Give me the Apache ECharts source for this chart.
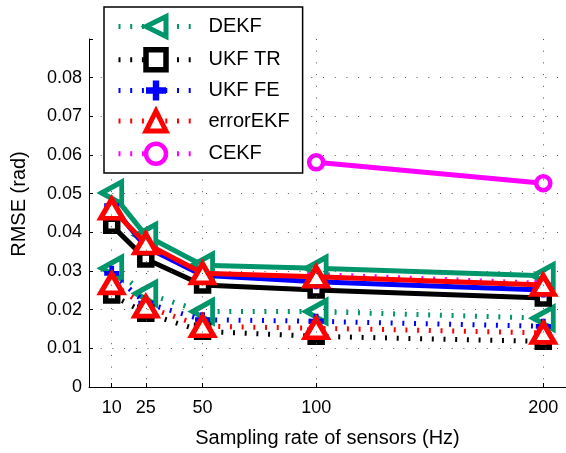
<!DOCTYPE html>
<html>
<head>
<meta charset="utf-8">
<script src="https://cdn.jsdelivr.net/npm/echarts@6/dist/echarts.min.js"></script>
<style>
html,body{margin:0;padding:0;background:#fff;}
#c{width:566px;height:453px;}
</style>
</head>
<body>
<div id="c"></div>
<script>
// ---- data ----
const rates = [10, 25, 50, 100, 200];
const cekfRates = [100, 200];
const xTicks = [10, 25, 50, 100, 200];
const yTicks = [0, 0.01, 0.02, 0.03, 0.04, 0.05, 0.06, 0.07, 0.08];

// dotted-line set
const dekfDot     = [0.0307, 0.0242, 0.0195, 0.0195, 0.0178];
const ukfTrDot    = [0.0238, 0.0191, 0.0144, 0.0131, 0.0118];
const ukfFeDot    = [0.0294, 0.0217, 0.0174, 0.0170, 0.0157];
const errorEkfDot = [0.0268, 0.0208, 0.0157, 0.0152, 0.0140];
const cekfDot     = [0.0291, 0.0268];

// solid-line set
const dekfSolid     = [0.0502, 0.0392, 0.0315, 0.0307, 0.0288];
const ukfTrSolid    = [0.0418, 0.0331, 0.0264, 0.0251, 0.0230];
const ukfFeSolid    = [0.0469, 0.0362, 0.0289, 0.0272, 0.0251];
const errorEkfSolid = [0.0461, 0.0371, 0.0294, 0.0285, 0.0264];
const cekfSolid     = [0.0581, 0.0527];

const names = ['DEKF', 'UKF TR', 'UKF FE', 'errorEKF', 'CEKF'];

// ---- styles ----
const GREEN = '#00966B', BLACK = '#000000', BLUE = '#0000FF', RED = '#FF0000', MAG = '#FF00FF';
const FONT = 'Liberation Sans, Arial, Helvetica, sans-serif';
const PLUS = 'path://M-1.6,-5H1.6V-1.6H5V1.6H1.6V5H-1.6V1.6H-5V-1.6H-1.6Z';
const DOT = [2, 9.7];

function pair(xs, ys) { return xs.map((x, i) => [x, ys[i]]); }

const markers = {
  'DEKF':     {symbol: 'triangle', rotate: 90, size: [22, 20], color: GREEN, hollow: true, bw: 5},
  'UKF TR':   {symbol: 'rect', rotate: 0, size: 12, color: BLACK, hollow: true, bw: 5.5},
  'UKF FE':   {symbol: PLUS, rotate: 0, size: 15, color: BLUE, hollow: false, bw: 0},
  'errorEKF': {symbol: 'triangle', rotate: 0, size: [22, 19], color: RED, hollow: true, bw: 5},
  'CEKF':     {symbol: 'circle', rotate: 0, size: 14, color: MAG, hollow: true, bw: 4.5}
};

function mkSeries(name, data, dotted, z) {
  const m = markers[name];
  return {
    type: 'line',
    name: name,
    data: data,
    z: z,
    symbol: m.symbol,
    symbolRotate: m.rotate,
    symbolSize: m.size,
    showAllSymbol: true,
    animation: false,
    lineStyle: {color: m.color, width: 5, type: dotted ? DOT : 'solid', cap: 'butt', join: 'miter'},
    itemStyle: m.hollow ? {color: '#fff', borderColor: m.color, borderWidth: m.bw} : {color: m.color, borderWidth: 0},
    emphasis: {disabled: true}
  };
}

const series = [
  mkSeries('CEKF', pair(cekfRates, cekfDot), true, 1),
  mkSeries('DEKF', pair(rates, dekfDot), true, 2),
  mkSeries('UKF TR', pair(rates, ukfTrDot), true, 3),
  mkSeries('UKF FE', pair(rates, ukfFeDot), true, 4),
  mkSeries('errorEKF', pair(rates, errorEkfDot), true, 5),
  mkSeries('DEKF', pair(rates, dekfSolid), false, 6),
  mkSeries('UKF TR', pair(rates, ukfTrSolid), false, 7),
  mkSeries('UKF FE', pair(rates, ukfFeSolid), false, 8),
  mkSeries('errorEKF', pair(rates, errorEkfSolid), false, 9),
  mkSeries('CEKF', pair(cekfRates, cekfSolid), false, 10)
];

const legendData = names.map(n => {
  const m = markers[n];
  return {
    name: n,
    itemStyle: m.hollow ? {color: '#fff', borderColor: m.color, borderWidth: m.bw} : {color: m.color, borderWidth: 0},
    lineStyle: {color: m.color, width: 5, type: DOT, cap: 'butt'}
  };
});

const gridDots = {color: '#555', width: 1, type: [1, 10.7]};
const yGridColors = yTicks.map(() => '#555').concat(['rgba(0,0,0,0)']);

const chart = echarts.init(document.getElementById('c'), null, {renderer: 'canvas'});
chart.setOption({
  backgroundColor: '#fff',
  animation: false,
  textStyle: {fontFamily: FONT},
  grid: {left: 89, right: -1, top: 39, bottom: 64, containLabel: false},
  legend: {
    data: legendData,
    orient: 'vertical',
    left: 104, top: 7,
    padding: [7, 13, 7, 12],
    itemWidth: 75, itemHeight: 25, itemGap: 8,
    backgroundColor: '#fff',
    borderColor: '#000', borderWidth: 1.5,
    textStyle: {fontSize: 20, color: '#000', fontFamily: FONT, padding: [0, 0, 0, 10]},
    selectedMode: false,
    z: 20
  },
  xAxis: {
    type: 'value', min: 0, max: 210,
    name: 'Sampling rate of sensors (Hz)', nameLocation: 'middle', nameGap: 41,
    nameTextStyle: {fontSize: 20, color: '#000', fontFamily: FONT},
    axisLine: {show: true, onZero: false, lineStyle: {color: '#000', width: 1}},
    axisTick: {show: true, inside: true, length: 4, customValues: xTicks, lineStyle: {color: '#000'}},
    axisLabel: {show: true, customValues: xTicks, fontSize: 18, color: '#000', margin: 12, fontFamily: FONT},
    splitLine: {show: true, lineStyle: gridDots},
    z: 15
  },
  yAxis: {
    type: 'value', min: 0, max: 0.09, interval: 0.01,
    name: 'RMSE (rad)', nameLocation: 'middle', nameGap: 60,
    nameTextStyle: {fontSize: 20, color: '#000', fontFamily: FONT, padding: [0, 0, 0, 18]},
    axisLine: {show: true, onZero: false, lineStyle: {color: '#000', width: 1}},
    axisTick: {show: true, inside: true, length: 4, lineStyle: {color: '#000'}},
    axisLabel: {fontSize: 18, color: '#000', margin: 7, fontFamily: FONT,
      formatter: v => (v > 0.085 ? '' : String(+v.toFixed(2)))},
    splitLine: {show: true, lineStyle: {color: yGridColors, width: 1, type: [1, 10.7]}},
    z: 15
  },
  series: series
});
</script>
</body>
</html>
